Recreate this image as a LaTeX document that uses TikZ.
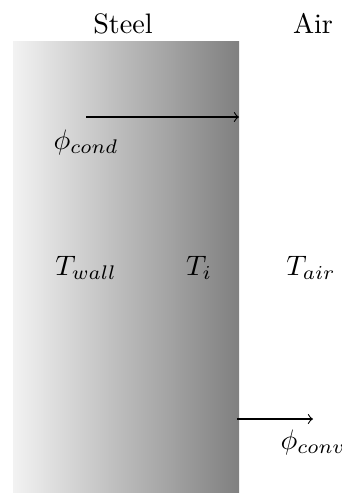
\documentclass[tikz,border=0pt]{standalone}
\begin{document}
\begin{tikzpicture}[x=0.355pt,y=-0.355pt,
  lbl/.style={anchor=base,inner sep=0pt},
  flow/.style={->}]
\useasboundingbox (0,0) rectangle (342,493);
\shade[left color=black!5,right color=black!50] (13,41) rectangle (239,493);
\node[lbl] (steel) at (123,33) {Steel};
\node[lbl] (air) at (313,33) {Air};
\coordinate (c1) at (86,117);
\coordinate (c2) at (239,117);
\draw[flow] (c1) -- (c2);
\node[lbl,anchor=base west] (pcond) at (53,149) {$\phi_{cond}$};
\node[lbl] (twall) at (86,275) {$T_{wall}$};
\node[lbl] (ti) at (199,275) {$T_i$};
\node[lbl] (tair) at (311,275) {$T_{air}$};
\coordinate (v1) at (237,419);
\coordinate (v2) at (313,419);
\draw[flow] (v1) -- (v2);
\node[lbl,anchor=base west] (pconv) at (280,449) {$\phi_{conv}$};
\end{tikzpicture}
\end{document}
